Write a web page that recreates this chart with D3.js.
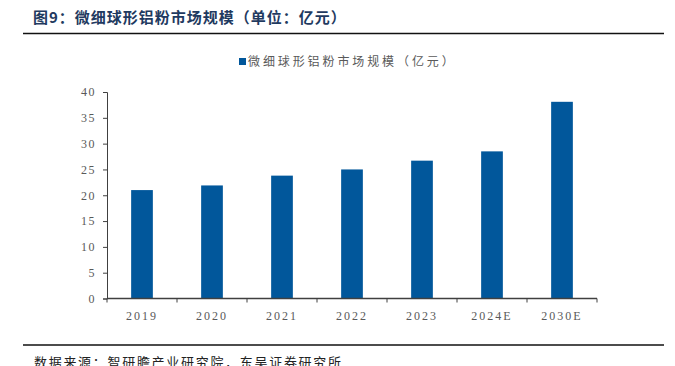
<!DOCTYPE html>
<html>
<head>
<meta charset="utf-8">
<script src="https://cdn.jsdelivr.net/npm/d3@7"></script>
<style>
  body { margin: 0; background: #fff; }
  svg { display: block; }
</style>
</head>
<body>
<div id="chart"></div>
<script>
const width = 675;
const height = 366;

// data
const years = ["2019", "2020", "2021", "2022", "2023", "2024E", "2030E"];
const marketSize = [21.0, 21.9, 23.8, 25.0, 26.7, 28.5, 38.1];
const yTicks = [0, 5, 10, 15, 20, 25, 30, 35, 40];

const titleText = "图9：微细球形铝粉市场规模（单位：亿元）";
const legendText = "微细球形铝粉市场规模（亿元）";
const sourceText = "数据来源：智研瞻产业研究院，东吴证券研究所";

const barColor = "#01579b";
const axisColor = "#404040";
const labelColor = "#595959";

const plot = { left: 107, right: 597, top: 92, bottom: 298.5 };

const svg = d3.select("#chart").append("svg")
  .attr("width", width)
  .attr("height", height);

// title + rules
svg.append("text")
  .attr("x", 33)
  .attr("y", 23)
  .attr("font-family", "Noto Sans CJK SC")
  .attr("font-weight", "bold")
  .attr("font-size", "15px")
  .attr("letter-spacing", "1px")
  .attr("fill", "#1f3a60")
  .text(titleText);

svg.append("line")
  .attr("x1", 23).attr("x2", 664)
  .attr("y1", 33.5).attr("y2", 33.5)
  .attr("stroke", "#111").attr("stroke-width", 1.5);

svg.append("line")
  .attr("x1", 23).attr("x2", 664)
  .attr("y1", 345).attr("y2", 345)
  .attr("stroke", "#111").attr("stroke-width", 1.5);

// source line sits at the bottom edge, partly clipped like the reference
svg.append("text")
  .attr("x", 34)
  .attr("y", 367)
  .attr("font-family", "Noto Sans CJK SC")
  .attr("font-size", "13px")
  .attr("letter-spacing", "1.7px")
  .attr("fill", "#222")
  .text(sourceText);

// legend
svg.append("rect")
  .attr("x", 239).attr("y", 58)
  .attr("width", 7).attr("height", 7)
  .attr("fill", barColor);
svg.append("text")
  .attr("x", 248)
  .attr("y", 66)
  .attr("font-family", "Noto Sans CJK SC")
  .attr("font-size", "12px")
  .attr("letter-spacing", "2.9px")
  .attr("fill", labelColor)
  .text(legendText);

// scales
const x = d3.scaleBand()
  .domain(years)
  .range([plot.left, plot.right])
  .paddingInner(0.69)
  .paddingOuter(0.345);

const y = d3.scaleLinear()
  .domain([0, 40])
  .range([plot.bottom, plot.top]);

// bars
svg.append("g")
  .selectAll("rect")
  .data(years)
  .enter()
  .append("rect")
  .attr("x", function(d) { return x(d); })
  .attr("width", x.bandwidth())
  .attr("y", function(d, i) { return y(marketSize[i]); })
  .attr("height", function(d, i) { return y(0) - y(marketSize[i]); })
  .attr("fill", barColor);

// y axis
const yAxis = svg.append("g")
  .attr("transform", "translate(" + plot.left + ",0)")
  .call(d3.axisLeft(y).tickValues(yTicks).tickSize(4).tickPadding(7));
yAxis.select(".domain").attr("stroke", axisColor);
yAxis.selectAll(".tick line").attr("stroke", axisColor);
yAxis.selectAll("text")
  .attr("font-family", "Liberation Serif")
  .attr("font-size", "12px")
  .attr("letter-spacing", "1.5px")
  .attr("fill", labelColor);

// x axis: ticks sit on category boundaries
const step = x.step();
const boundaries = d3.range(years.length + 1).map(function(i) { return plot.left + i * step; });
const xAxis = svg.append("g")
  .attr("transform", "translate(0," + plot.bottom + ")");
xAxis.append("line")
  .attr("x1", plot.left).attr("x2", plot.right)
  .attr("stroke", axisColor).attr("stroke-width", 1.5);
xAxis.selectAll("line.tk")
  .data(boundaries)
  .enter()
  .append("line")
  .attr("class", "tk")
  .attr("x1", function(d) { return d; }).attr("x2", function(d) { return d; })
  .attr("y1", 0).attr("y2", 4)
  .attr("stroke", axisColor);
xAxis.selectAll("text")
  .data(years)
  .enter()
  .append("text")
  .attr("x", function(d) { return x(d) + x.bandwidth() / 2; })
  .attr("y", 21)
  .attr("text-anchor", "middle")
  .attr("font-family", "Liberation Serif")
  .attr("font-size", "12px")
  .attr("letter-spacing", "2px")
  .attr("fill", labelColor)
  .text(function(d) { return d; });
</script>
</body>
</html>
